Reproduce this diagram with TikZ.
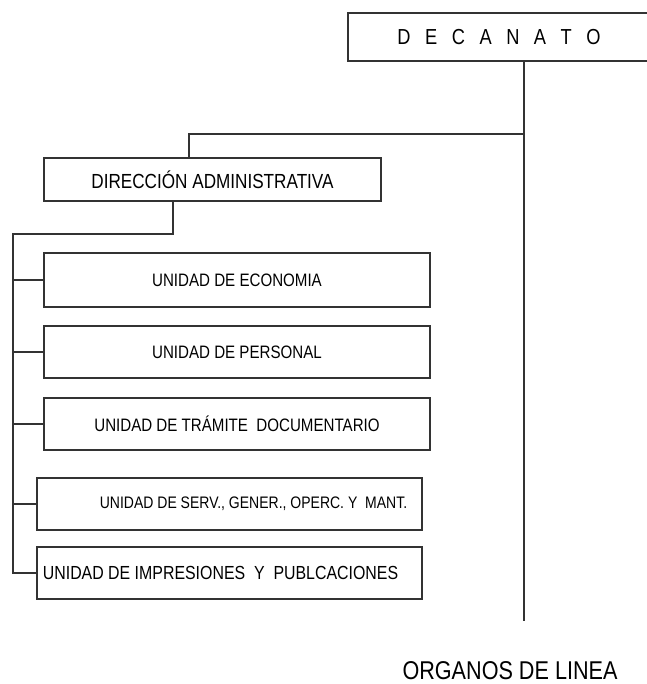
\documentclass[tikz,border=0pt]{standalone}
\usepackage{fontspec}
\setmainfont{Liberation Sans}[FakeStretch=0.84]
\definecolor{rule}{HTML}{333333}
\begin{document}
\begin{tikzpicture}[x=0.75pt,y=-0.75pt,
  box/.style={draw=rule, line width=1.35pt, fill=white, inner sep=0pt,
              minimum width=#1*0.75pt},
  link/.style={draw=rule, line width=1.35pt},
  unitfont/.style={font=\fontsize{13.5pt}{16pt}\selectfont}]
\useasboundingbox (0,0) rectangle (646,684);

% top of the chart: the box runs past the right edge of the page
\node[box=302, minimum height=48*0.75pt] (dec) at (499,37)
  {\fontsize{16.3pt}{19pt}\selectfont\spaceskip=10.9pt\relax D E C A N A T O};

\node[box=337, minimum height=43*0.75pt,
      font=\fontsize{15.3pt}{18pt}\selectfont] (dir) at (212.5,179.5)
  {DIRECCIÓN ADMINISTRATIVA};

% units under the administrative direction
\node[box=386, minimum height=54*0.75pt, unitfont] (u1) at (237,280)
  {UNIDAD DE ECONOMIA};
\node[box=386, minimum height=52*0.75pt, unitfont] (u2) at (237,352)
  {UNIDAD DE PERSONAL};
\node[box=386, minimum height=52*0.75pt, unitfont] (u3) at (237,424)
  {UNIDAD DE TRÁMITE\ \ DOCUMENTARIO};
\node[box=385, minimum height=52*0.75pt,
      font=\fontsize{12.5pt}{15pt}\selectfont] (u4) at (229.5,504)
  {\hspace*{36pt}UNIDAD DE SERV., GENER., OPERC. Y\ \ MANT.};
\node[box=385, minimum height=52*0.75pt,
      font=\fontsize{14.2pt}{17pt}\selectfont] (u5) at (229.5,573)
  {UNIDAD DE IMPRESIONES\ \ Y\ \ PUBLCACIONES\hspace*{13.5pt}};

\node[inner sep=0pt, font=\fontsize{19.3pt}{22pt}\selectfont] (lin) at (510,671)
  {ORGANOS DE LINEA};

% connectors
\coordinate (trunk) at (524,621);
\coordinate (tee) at (524,134);
\coordinate (bus) at (13,234);

\draw[link] (dec.south -| trunk) -- (trunk);
\draw[link] (tee) -| ([xshift=-17.6pt]dir.north);
\draw[link] ([xshift=-29.6pt]dir.south) |- (bus) -- (bus |- u5.west) -- (u5.west);
\draw[link] (bus |- u1.west) -- (u1.west);
\draw[link] (bus |- u2.west) -- (u2.west);
\draw[link] (bus |- u3.west) -- (u3.west);
\draw[link] (bus |- u4.west) -- (u4.west);
\end{tikzpicture}
\end{document}
